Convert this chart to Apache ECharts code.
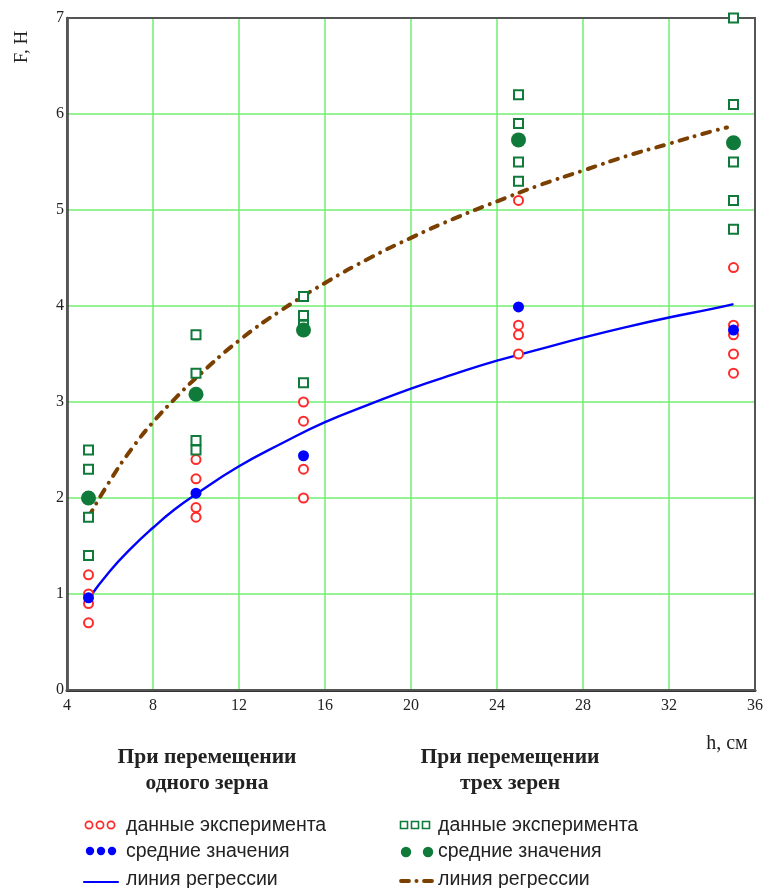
<!DOCTYPE html>
<html>
<head>
<meta charset="utf-8">
<script src="https://cdn.jsdelivr.net/npm/echarts@6/dist/echarts.min.js"></script>
<style>
  html, body { margin: 0; padding: 0; background: #fff; }
  #chart { width: 768px; height: 888px; }
</style>
</head>
<body>
<div id="chart"></div>
<script>
// Height of lift h, cm
const hValues = [5, 10, 15, 25, 35];

// One grain: individual measurements of force F, N
const oneGrainData = [
  [1.2, 1.0, 0.9, 0.7],
  [2.4, 2.2, 1.9, 1.8],
  [3.0, 2.8, 2.3, 2.0],
  [5.1, 3.8, 3.7, 3.5],
  [4.4, 3.8, 3.7, 3.5, 3.3]
];
const oneGrainMeans = [0.96, 2.05, 2.44, 3.99, 3.75];

// Three grains: individual measurements
const threeGrainData = [
  [2.5, 2.3, 1.8, 1.4],
  [3.7, 3.3, 2.6, 2.5],
  [4.1, 3.9, 3.8, 3.2],
  [6.2, 5.9, 5.5, 5.3],
  [7.0, 6.1, 5.5, 5.1, 4.8]
];
const threeGrainMeans = [2.0, 3.08, 3.75, 5.73, 5.7];

// Regression curves (h, F)
const regH1 = [5, 6, 7, 8, 9, 10, 12, 14, 16, 18, 20, 22, 24, 26, 28, 30, 32, 34, 35];
const regF1 = [0.95, 1.24, 1.48, 1.69, 1.88, 2.04, 2.33, 2.57, 2.79, 2.97, 3.14, 3.29, 3.43, 3.55, 3.67, 3.78, 3.88, 3.97, 4.02];
const regH3 = [5, 6, 7, 8, 9, 10, 12, 14, 16, 18, 20, 22, 24, 26, 28, 30, 32, 34, 34.7];
const regF3 = [1.80, 2.18, 2.51, 2.79, 3.03, 3.25, 3.64, 3.96, 4.24, 4.49, 4.71, 4.91, 5.09, 5.26, 5.41, 5.56, 5.69, 5.82, 5.86];

const xTicks = { min: 4, max: 36, interval: 4 };
const yTicks = { min: 0, max: 7, interval: 1 };

const RED = '#ff2a2a', BLUE = '#0000ff', GREEN = '#0f7a3a', BROWN = '#7b3f00', GRID = '#72ee72';

function flatten(groups) {
  const out = [];
  groups.forEach((vals, i) => vals.forEach(v => out.push([hValues[i], v])));
  return out;
}
const zip = (xs, ys) => xs.map((x, i) => [x, ys[i]]);

const serifFont = '"Liberation Serif", "DejaVu Serif", serif';
const sansFont = '"Liberation Sans", Arial, sans-serif';

const chart = echarts.init(document.getElementById('chart'), null, { renderer: 'canvas' });

function txt(x, y, s, opts) {
  return {
    type: 'text', x: x, y: y,
    style: Object.assign({ text: s, fill: '#222', font: '19.5px ' + sansFont, verticalAlign: 'middle' }, opts || {})
  };
}
function circ(cx, cy, r, fill, stroke, lw) {
  return { type: 'circle', shape: { cx: cx, cy: cy, r: r },
    style: { fill: fill, stroke: stroke || null, lineWidth: lw || 0 } };
}
function rect(cx, cy, s, stroke) {
  return { type: 'rect', shape: { x: cx - s / 2, y: cy - s / 2, width: s, height: s },
    style: { fill: '#fff', stroke: stroke, lineWidth: 1.6 } };
}
function seg(x1, y1, x2, y2, color, lw) {
  return { type: 'line', shape: { x1: x1, y1: y1, x2: x2, y2: y2 },
    style: { stroke: color, lineWidth: lw, lineCap: 'round' } };
}

const titleFont = 'bold 21.5px ' + serifFont;
const graphics = [
  // axis titles
  { type: 'text', x: 22, y: 47, rotation: Math.PI / 2,
    style: { text: 'F, H', font: '19px ' + serifFont, fill: '#222', align: 'center', verticalAlign: 'middle' } },
  { type: 'text', x: 727, y: 744,
    style: { text: 'h, см', font: '20px ' + serifFont, fill: '#222', align: 'center', verticalAlign: 'middle' } },
  // group titles
  txt(207, 757, 'При перемещении', { font: titleFont, align: 'center' }),
  txt(207, 783, 'одного зерна', { font: titleFont, align: 'center' }),
  txt(510, 757, 'При перемещении', { font: titleFont, align: 'center' }),
  txt(510, 783, 'трех зерен', { font: titleFont, align: 'center' }),
  // one grain legend
  circ(89, 825, 3.6, '#fff', RED, 1.7), circ(100, 825, 3.6, '#fff', RED, 1.7), circ(111, 825, 3.6, '#fff', RED, 1.7),
  txt(126, 826, 'данные эксперимента'),
  circ(90, 851, 4.2, BLUE), circ(101, 851, 4.2, BLUE), circ(112, 851, 4.2, BLUE),
  txt(126, 852, 'средние значения'),
  seg(84, 882, 118, 882, BLUE, 2.2),
  txt(126, 880, 'линия регрессии'),
  // three grain legend
  rect(404, 825, 7, GREEN), rect(415, 825, 7, GREEN), rect(426, 825, 7, GREEN),
  txt(438, 826, 'данные эксперимента'),
  circ(406, 852, 5.2, GREEN), circ(428, 852, 5.2, GREEN),
  txt(438, 852, 'средние значения'),
  seg(401, 881, 409, 881, BROWN, 3.8), circ(416.5, 881, 2, BROWN), seg(424, 881, 432, 881, BROWN, 3.8),
  txt(438, 880, 'линия регрессии')
];

const option = {
  backgroundColor: '#fff',
  animation: false,
  grid: { left: 67, right: 13, top: 18, bottom: 198, show: true, z: 1,
    borderColor: '#555', borderWidth: 2 },
  xAxis: {
    type: 'value', min: xTicks.min, max: xTicks.max, interval: xTicks.interval,
    axisLine: { show: true, onZero: false, lineStyle: { color: '#333', width: 3 } },
    axisTick: { show: false },
    splitLine: { show: true, lineStyle: { color: GRID, width: 1.5 } },
    axisLabel: { color: '#222', fontFamily: serifFont, fontSize: 16, margin: 8,
      showMinLabel: true, showMaxLabel: true }
  },
  yAxis: {
    type: 'value', min: yTicks.min, max: yTicks.max, interval: yTicks.interval,
    axisLine: { show: true, onZero: false, lineStyle: { color: '#333', width: 2.5 } },
    axisTick: { show: false },
    splitLine: { show: true, lineStyle: { color: GRID, width: 1.5 } },
    axisLabel: { color: '#222', fontFamily: serifFont, fontSize: 16, margin: 3 }
  },
  series: [
    {
      name: 'линия регрессии (три зерна)', type: 'line', data: zip(regH3, regF3),
      smooth: true, showSymbol: false, z: 2,
      lineStyle: { color: BROWN, width: 4, type: [8, 8, 0.01, 8], cap: 'round' }
    },
    {
      name: 'линия регрессии (одно зерно)', type: 'line', data: zip(regH1, regF1),
      smooth: true, showSymbol: false, z: 2,
      lineStyle: { color: BLUE, width: 2.4 }
    },
    {
      name: 'данные эксперимента (одно зерно)', type: 'scatter', data: flatten(oneGrainData),
      symbol: 'emptyCircle', symbolSize: 9, z: 3,
      itemStyle: { color: RED, borderColor: RED, borderWidth: 1.7, opacity: 1 }
    },
    {
      name: 'данные эксперимента (три зерна)', type: 'scatter', data: flatten(threeGrainData),
      symbol: 'emptyRect', symbolSize: 9, z: 3,
      itemStyle: { color: GREEN, borderColor: GREEN, borderWidth: 1.7, opacity: 1 }
    },
    {
      name: 'средние значения (одно зерно)', type: 'scatter', data: zip(hValues, oneGrainMeans),
      symbol: 'circle', symbolSize: 11, z: 4,
      itemStyle: { color: BLUE, opacity: 1 }
    },
    {
      name: 'средние значения (три зерна)', type: 'scatter', data: zip(hValues, threeGrainMeans),
      symbol: 'circle', symbolSize: 15, z: 4,
      itemStyle: { color: GREEN, opacity: 1 }
    }
  ],
  graphic: graphics
};

chart.setOption(option);
</script>
</body>
</html>
